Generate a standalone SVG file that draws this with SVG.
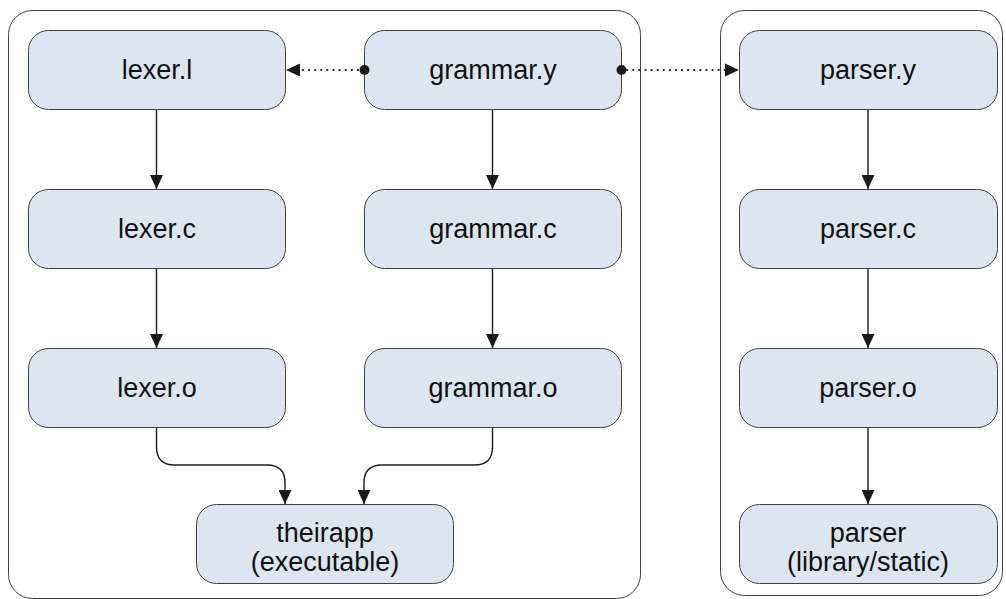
<svg xmlns="http://www.w3.org/2000/svg" width="1006" height="599" viewBox="0 0 1006 599">
  <style>
    .container { fill: #ffffff; stroke: #404040; stroke-width: 1; }
    .node rect { fill: #dde5f1; stroke: #404040; stroke-width: 1; }
    .node text { font-family: "Liberation Sans", Arial, sans-serif; font-size: 27px; fill: #111111; text-anchor: middle; }
    .edge { fill: none; stroke: #1a1a1a; stroke-width: 1.4; }
    .dotted { fill: none; stroke: #1a1a1a; stroke-width: 2.2; stroke-dasharray: 0.1 6; stroke-linecap: round; }
    .head { fill: #1a1a1a; }
  </style>
  <defs>
    <marker id="arrow" viewBox="0 0 14 13" refX="14" refY="6.5" markerWidth="14" markerHeight="13" markerUnits="userSpaceOnUse" orient="auto">
      <path d="M0,0 L14,6.5 L0,13 Z" fill="#1a1a1a"/>
    </marker>
  </defs>

  <!-- Build groups -->
  <g id="group-app">
    <rect class="container" x="8.5" y="10.5" width="632" height="588" rx="24"/>
  </g>
  <g id="group-lib">
    <rect class="container" x="720.5" y="10.5" width="282" height="585" rx="24"/>
  </g>

  <!-- Nodes -->
  <g id="lexer-l" class="node">
    <rect x="28.5" y="30.5" width="257" height="79" rx="20"/>
    <text x="157" y="79">lexer.l</text>
  </g>
  <g id="grammar-y" class="node">
    <rect x="364.5" y="30.5" width="257" height="79" rx="20"/>
    <text x="493" y="79">grammar.y</text>
  </g>
  <g id="parser-y" class="node">
    <rect x="739.5" y="30.5" width="258" height="79" rx="20"/>
    <text x="868" y="79">parser.y</text>
  </g>
  <g id="lexer-c" class="node">
    <rect x="28.5" y="189.5" width="257" height="79" rx="20"/>
    <text x="157" y="238">lexer.c</text>
  </g>
  <g id="grammar-c" class="node">
    <rect x="364.5" y="189.5" width="257" height="79" rx="20"/>
    <text x="493" y="238">grammar.c</text>
  </g>
  <g id="parser-c" class="node">
    <rect x="739.5" y="189.5" width="258" height="79" rx="20"/>
    <text x="868" y="238">parser.c</text>
  </g>
  <g id="lexer-o" class="node">
    <rect x="28.5" y="348.5" width="257" height="79" rx="20"/>
    <text x="157" y="397">lexer.o</text>
  </g>
  <g id="grammar-o" class="node">
    <rect x="364.5" y="348.5" width="257" height="79" rx="20"/>
    <text x="493" y="397">grammar.o</text>
  </g>
  <g id="parser-o" class="node">
    <rect x="739.5" y="348.5" width="258" height="79" rx="20"/>
    <text x="868" y="397">parser.o</text>
  </g>
  <g id="theirapp" class="node">
    <rect x="196.5" y="504.5" width="257" height="79" rx="20"/>
    <text x="325" y="542">theirapp</text>
    <text x="325" y="571">(executable)</text>
  </g>
  <g id="parser-lib" class="node">
    <rect x="739.5" y="504.5" width="258" height="79" rx="20"/>
    <text x="868" y="542">parser</text>
    <text x="868" y="571">(library/static)</text>
  </g>

  <!-- Connectors -->
  <g id="connectors">
    <path class="edge" d="M156.5,110 V189" marker-end="url(#arrow)"/>
    <path class="edge" d="M156.5,269 V348" marker-end="url(#arrow)"/>
    <path class="edge" d="M492.5,110 V189" marker-end="url(#arrow)"/>
    <path class="edge" d="M492.5,269 V348" marker-end="url(#arrow)"/>
    <path class="edge" d="M868,110 V189" marker-end="url(#arrow)"/>
    <path class="edge" d="M868,269 V348" marker-end="url(#arrow)"/>
    <path class="edge" d="M868,428 V504" marker-end="url(#arrow)"/>
    <path class="edge" d="M156.5,428 V447 Q156.5,465 174.5,465 H267 Q285,465 285,483 V504" marker-end="url(#arrow)"/>
    <path class="edge" d="M492.5,428 V447 Q492.5,465 474.5,465 H382 Q364,465 364,483 V504" marker-end="url(#arrow)"/>
    <!-- grammar.y feeds lexer.l -->
    <path class="dotted" d="M364,70 H298"/>
    <path class="head" d="M300,63.5 L286,70 L300,76.5 Z"/>
    <circle class="head" cx="364.5" cy="70" r="5"/>
    <!-- grammar.y feeds parser.y -->
    <path class="dotted" d="M621,70 H727"/>
    <path class="head" d="M725,63.5 L739,70 L725,76.5 Z"/>
    <circle class="head" cx="621.5" cy="70" r="5"/>
  </g>
</svg>
